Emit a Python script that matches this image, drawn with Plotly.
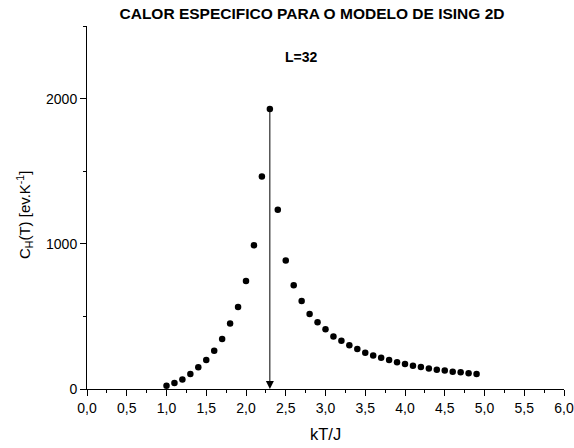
import plotly.graph_objects as go

# Data
T = [1.0, 1.1, 1.2, 1.3, 1.4, 1.5, 1.6, 1.7, 1.8, 1.9, 2.0, 2.1, 2.2, 2.3, 2.4,
     2.5, 2.6, 2.7, 2.8, 2.9, 3.0, 3.1, 3.2, 3.3, 3.4, 3.5, 3.6, 3.7, 3.8, 3.9,
     4.0, 4.1, 4.2, 4.3, 4.4, 4.5, 4.6, 4.7, 4.8, 4.9]
C = [22, 41, 66, 103, 149, 199, 263, 345, 451, 565, 743, 990, 1464, 1929, 1235,
     885, 714, 606, 517, 460, 411, 362, 332, 302, 275, 249, 231, 215, 199, 185,
     172, 160, 151, 142, 133, 128, 119, 115, 108, 103]

x_ticks = [0.0, 0.5, 1.0, 1.5, 2.0, 2.5, 3.0, 3.5, 4.0, 4.5, 5.0, 5.5, 6.0]
y_ticks = [0, 1000, 2000]

FONT = "Arial, Liberation Sans, sans-serif"

W, H = 574, 448
ML, MR, MT, MB = 87, 10, 26, 59
PW, PH = W - ML - MR, H - MT - MB


def px_x(px):
    return (px - ML) / PW


def px_y(py):
    return (H - MB - py) / PH


peak_i = max(range(len(C)), key=lambda i: C[i])

fig = go.Figure()
fig.add_trace(go.Scatter(
    x=T, y=C, mode="markers",
    marker=dict(color="black", size=6.5, symbol="circle"),
    showlegend=False, cliponaxis=False,
))

fig.add_annotation(
    x=T[peak_i], y=0, ax=T[peak_i], ay=C[peak_i],
    xref="x", yref="y", axref="x", ayref="y",
    showarrow=True, arrowhead=2, arrowsize=1.6, arrowwidth=1,
    arrowcolor="black", standoff=0, startstandoff=0, text="",
)

fig.add_annotation(
    text="<b>L=32</b>", x=px_x(301.5), y=px_y(57),
    xref="paper", yref="paper", showarrow=False,
    xanchor="center", yanchor="middle",
    font=dict(family=FONT, size=14, color="black"),
)

fig.add_annotation(
    text="kT/J", x=px_x(325.5), y=px_y(434),
    xref="paper", yref="paper", showarrow=False,
    xanchor="center", yanchor="middle",
    font=dict(family=FONT, size=16.5, color="black"),
)

fig.add_annotation(
    text="C<sub>H</sub>(T) [ev.K<sup>-1</sup>]", x=px_x(24), y=px_y(215),
    xref="paper", yref="paper", showarrow=False, textangle=-90,
    xanchor="center", yanchor="middle",
    font=dict(family=FONT, size=15, color="black"),
)

axis_common = dict(
    showline=True, linecolor="black", linewidth=1,
    showgrid=False, zeroline=False, ticks="outside",
    tickcolor="black", ticklen=6, tickwidth=1,
    tickfont=dict(family=FONT, size=14, color="black"),
    mirror=False, automargin=False,
)

fig.update_layout(
    width=W, height=H,
    margin=dict(l=ML, r=MR, t=MT, b=MB, autoexpand=False),
    paper_bgcolor="white", plot_bgcolor="white",
    separators=",.",
    title=dict(
        text="<b>CALOR ESPECIFICO PARA O MODELO DE ISING 2D</b>",
        x=312 / W, xanchor="center", xref="container",
        y=1 - 14 / H, yanchor="middle", yref="container",
        font=dict(family=FONT, size=15.5, color="black"),
    ),
    xaxis=dict(
        range=[0, 6], tickvals=x_ticks, tickformat=".1f",
        minor=dict(dtick=0.25, ticks="outside", ticklen=3, tickcolor="black", showgrid=False),
        **axis_common,
    ),
    yaxis=dict(
        range=[0, 2500], tickvals=y_ticks, tickformat="d",
        minor=dict(dtick=500, ticks="outside", ticklen=3, tickcolor="black", showgrid=False),
        **axis_common,
    ),
)

fig.write_html("out.html")
